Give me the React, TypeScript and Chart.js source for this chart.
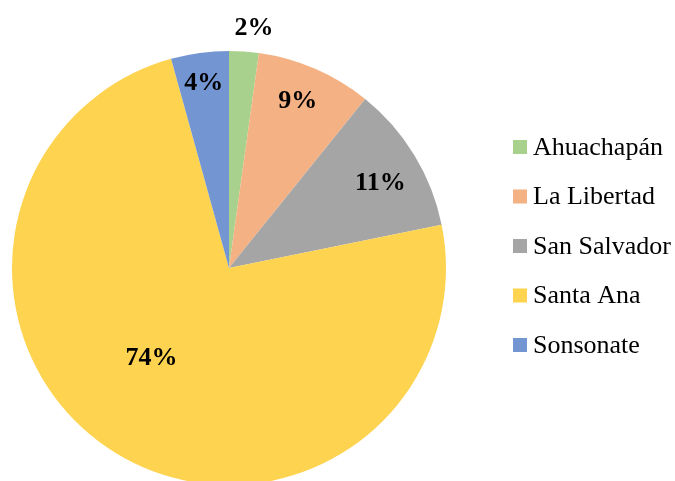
import React, { useEffect, useRef } from "react";
import { Chart, registerables } from "chart.js";

Chart.register(...registerables);

const categories = ["Ahuachapán", "La Libertad", "San Salvador", "Santa Ana", "Sonsonate"];
const values = [2.2, 8.6, 11.0, 73.9, 4.3];
const colors = ["#A9D18E", "#F4B183", "#A5A5A5", "#FED350", "#7396D3"];
const labelRadius = [1.11, 0.83, 0.80, 0.55, 0.86];
const labelAngleShift = [2, -1, 2, 9, 0];

const labelsPlugin = {
  id: "sliceLabels",
  afterDatasetsDraw(chart: any) {
    const ctx = chart.ctx;
    const meta = chart.getDatasetMeta(0);
    const total = values.reduce((a, b) => a + b, 0);
    ctx.save();
    ctx.font = "bold 26px 'Liberation Serif', 'Times New Roman', serif";
    ctx.fillStyle = "#000";
    ctx.textAlign = "center";
    ctx.textBaseline = "middle";
    meta.data.forEach((arc: any, i: number) => {
      const { x, y, startAngle, endAngle, outerRadius } = arc.getProps(
        ["x", "y", "startAngle", "endAngle", "outerRadius"],
        true
      );
      const mid = (startAngle + endAngle) / 2 + (labelAngleShift[i] * Math.PI) / 180;
      const r = outerRadius * labelRadius[i];
      const pct = Math.round((values[i] / total) * 100) + "%";
      ctx.fillText(pct, x + Math.cos(mid) * r, y + Math.sin(mid) * r);
    });
    ctx.restore();
  },
};

const legendPlugin = {
  id: "sideLegend",
  afterDraw(chart: any) {
    const ctx = chart.ctx;
    ctx.save();
    ctx.font = "26px 'Liberation Serif', 'Times New Roman', serif";
    ctx.textBaseline = "middle";
    ctx.textAlign = "left";
    const x0 = 513;
    const y0 = 147;
    const step = 49.5;
    categories.forEach((c, i) => {
      const cy = y0 + i * step;
      ctx.fillStyle = colors[i];
      ctx.fillRect(x0, cy - 7, 14, 14);
      ctx.fillStyle = "#000";
      ctx.fillText(c, x0 + 20, cy + 1);
    });
    ctx.restore();
  },
};

export default function App() {
  const ref = useRef<HTMLCanvasElement>(null);
  useEffect(() => {
    document.body.style.margin = "0";
    document.body.style.overflow = "hidden";
    const chart = new Chart(ref.current!, {
      type: "pie",
      data: {
        labels: categories,
        datasets: [
          {
            data: values,
            backgroundColor: colors,
            borderWidth: 0,
          },
        ],
      },
      options: {
        animation: false,
        responsive: false,
        maintainAspectRatio: false,
        layout: { padding: { left: 12, right: 229, top: 51, bottom: 15 } },
        plugins: {
          legend: { display: false },
          tooltip: { enabled: false },
        },
      },
      plugins: [labelsPlugin, legendPlugin],
    });
    return () => chart.destroy();
  }, []);
  return (
    <div style={{ position: "fixed", left: 0, top: 0, width: 675, height: 481, overflow: "hidden", background: "#fff" }}>
      <canvas ref={ref} width={675} height={500} style={{ display: "block" }} />
    </div>
  );
}
